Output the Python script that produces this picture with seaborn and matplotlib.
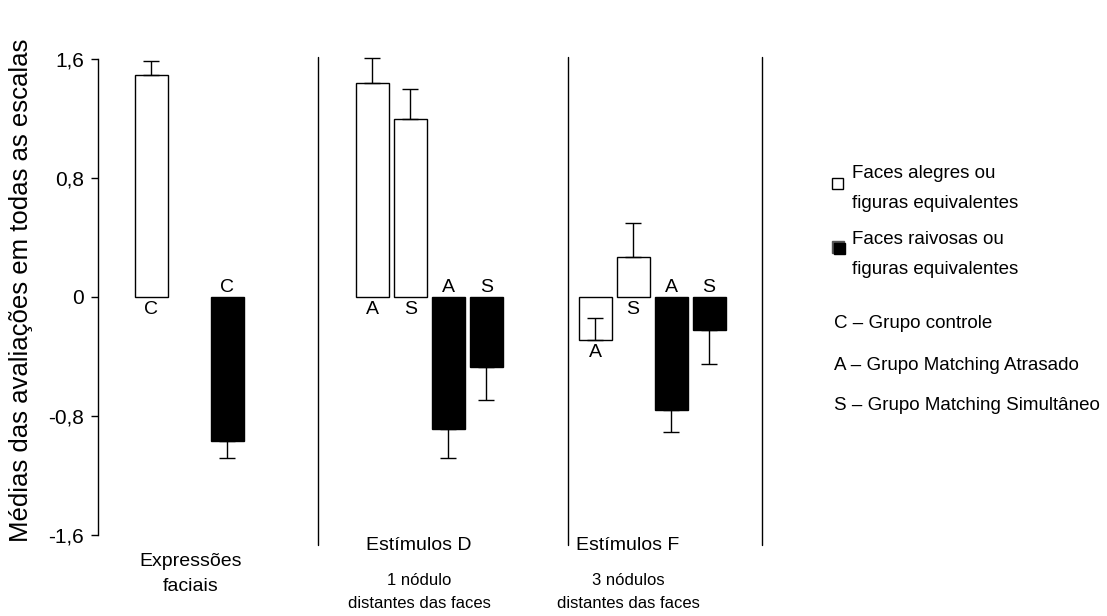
import seaborn as sns
import matplotlib.pyplot as plt
import matplotlib.transforms as mtransforms
from matplotlib.patches import Rectangle
import pandas as pd

# Data
groups = ["Expressões\nfaciais", "Estímulos D", "Estímulos F"]
sublabels = ["", "1 nódulo\ndistantes das faces", "3 nódulos\ndistantes das faces"]
bar_group = [0, 0, 1, 1, 1, 1, 2, 2, 2, 2]
bar_face = ["alegres", "raivosas", "alegres", "alegres", "raivosas", "raivosas",
            "alegres", "alegres", "raivosas", "raivosas"]
bar_letter = ["C", "C", "A", "S", "A", "S", "A", "S", "A", "S"]
means = [1.49, -0.97, 1.44, 1.20, -0.89, -0.47, -0.29, 0.27, -0.76, -0.22]
errors = [0.095, 0.11, 0.165, 0.20, 0.19, 0.225, 0.15, 0.23, 0.145, 0.23]
yticks = [-1.6, -0.8, 0, 0.8, 1.6]
ytick_labels = ["-1,6", "-0,8", "0", "0,8", "1,6"]
legend_faces = ["Faces alegres ou\nfiguras equivalentes", "Faces raivosas ou\nfiguras equivalentes"]
legend_groups = ["C – Grupo controle", "A – Grupo Matching Atrasado", "S – Grupo Matching Simultâneo"]

sns.set_style("white")
plt.rcParams["font.family"] = ["Liberation Sans", "DejaVu Sans"]
plt.rcParams["text.color"] = "black"
plt.rcParams["axes.labelcolor"] = "black"
plt.rcParams["ytick.color"] = "black"

# layout: bar slots along the x axis
group_start = [1.4, 7.22, 13.08]
group_step = [2, 1, 1]
separators = [5.79, 12.37, 17.47]
label_x = [2.45, 8.45, 13.95]

pos = []
count = {}
for g in bar_group:
    k = count.get(g, 0)
    pos.append(group_start[g] + k * group_step[g])
    count[g] = k + 1

df = pd.DataFrame({"pos": pos, "mean": means, "face": bar_face})

W, H = 1107, 616
fig = plt.figure(figsize=(W / 100, H / 100), dpi=100)
ax = fig.add_axes([98 / W, 1 - 535 / H, 672.6 / W, 476 / H])

sns.barplot(data=df, x="pos", y="mean", hue="face", native_scale=True, dodge=False,
            palette={"alegres": "white", "raivosas": "black"}, edgecolor="black",
            linewidth=1, width=0.87, errorbar=None, legend=False, ax=ax)

# one-sided error bars: up for white bars, down for black bars
for x, m, e, f, letter in zip(pos, means, errors, bar_face, bar_letter):
    if f == "alegres":
        eb = ax.errorbar(x, m, yerr=[[0], [e]], fmt="none", ecolor="black",
                         elinewidth=1, capsize=5.5, capthick=1)
        ax.annotate(letter, (x, min(0, m)), xytext=(0, -3), textcoords="offset points",
                    ha="center", va="top", fontsize=14)
    else:
        eb = ax.errorbar(x, m, yerr=[[e], [0]], fmt="none", ecolor="black",
                         elinewidth=1, capsize=5.5, capthick=1)
        ax.annotate(letter, (x, 0), xytext=(0, 1), textcoords="offset points",
                    ha="center", va="bottom", fontsize=14)
    for part in eb.get_children():
        part.set_clip_on(False)

for s in separators:
    ax.axvline(s, ymin=-0.021, ymax=1.004, color="black", lw=1, clip_on=False)

ax.set_xlim(0, 17.7)
ax.set_ylim(-1.6, 1.6)
ax.set_yticks(yticks)
ax.set_yticklabels(ytick_labels)
ax.set_xticks([])
ax.set_xlabel("")
ax.set_ylabel("Médias das avaliações em todas as escalas", fontsize=18.5)
ax.yaxis.set_label_coords(-0.096, 0.515)
ax.tick_params(axis="y", direction="out", length=5, width=1, labelsize=15, pad=5, left=True,
               colors="black")
for side in ["top", "right", "bottom"]:
    ax.spines[side].set_visible(False)
ax.spines["left"].set_color("black")
ax.spines["left"].set_linewidth(1)

# group labels under the axis
trans = mtransforms.blended_transform_factory(ax.transData, fig.transFigure)
ax.text(label_x[0], 1 - 574 / H, groups[0], transform=trans, ha="center", va="center",
        fontsize=14, linespacing=1.6)
for i in [1, 2]:
    ax.text(label_x[i], 1 - 545 / H, groups[i], transform=trans, ha="center", va="center",
            fontsize=14)
    ax.text(label_x[i], 1 - 592 / H, sublabels[i], transform=trans, ha="center", va="center",
            fontsize=12, linespacing=1.7)

# legend drawn by hand
fig.add_artist(Rectangle((832 / W, 1 - 189 / H), 11 / W, 11 / H, facecolor="white",
                         edgecolor="black", lw=1, transform=fig.transFigure))
fig.add_artist(Rectangle((832 / W, 1 - 253 / H), 12 / W, 12 / H, facecolor="#555555",
                         edgecolor="#555555", lw=1, transform=fig.transFigure))
fig.add_artist(Rectangle((834 / W, 1 - 254 / H), 11 / W, 11 / H, facecolor="black",
                         edgecolor="black", lw=1, transform=fig.transFigure))
fig.text(852 / W, 1 - 188 / H, legend_faces[0], fontsize=13.5, va="center", linespacing=2.0)
fig.text(852 / W, 1 - 255 / H, legend_faces[1], fontsize=13.5, va="center", linespacing=2.0)
for i, t in enumerate(legend_groups):
    fig.text(834 / W, 1 - (324 + 41 * i) / H, t, fontsize=13.5, va="center")

fig.savefig("out.png", dpi=100)
